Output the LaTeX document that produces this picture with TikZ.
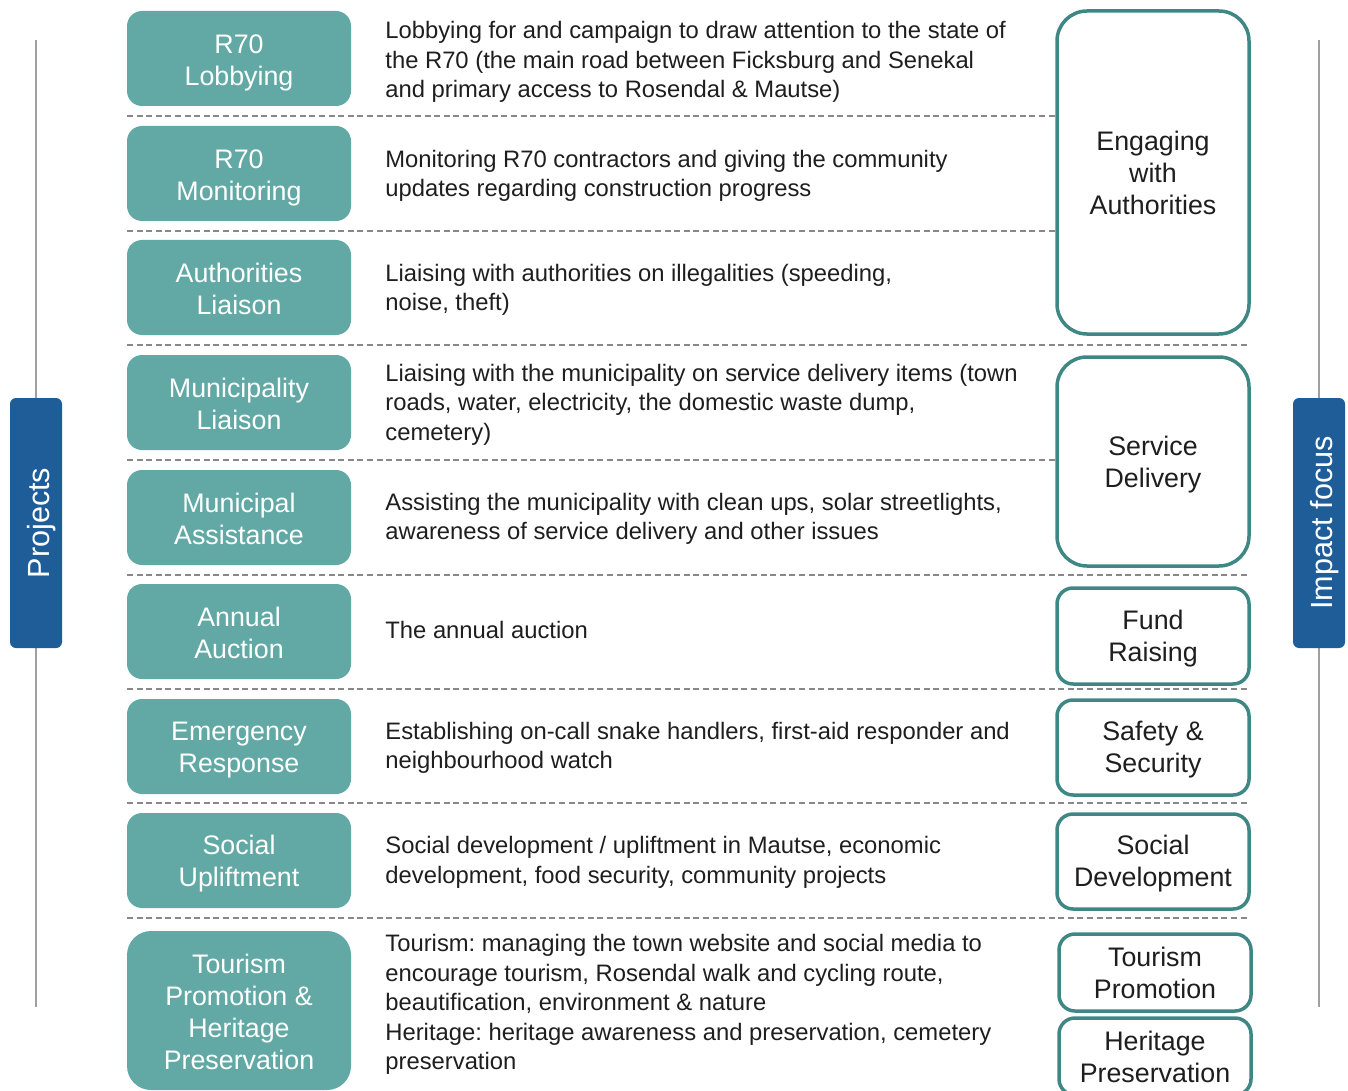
\documentclass[tikz,border=0pt]{standalone}
\usepackage{fontspec}
\setmainfont{Liberation Sans}
\usepackage{tikz}
\usetikzlibrary{positioning}
\definecolor{projTeal}{RGB}{98,169,165}
\definecolor{focusTeal}{RGB}{63,135,132}
\definecolor{sideBlue}{RGB}{31,93,153}
\definecolor{lineGray}{RGB}{160,160,160}
\definecolor{dashGray}{RGB}{136,136,136}
\definecolor{textDark}{RGB}{30,30,30}
\newcommand{\projlift}[1]{\rule{0pt}{#1}}
\newcommand{\focuslift}{\rule{0pt}{12.6pt}}
\frenchspacing
\begin{document}
\begin{tikzpicture}[x=0.5pt,y=-0.5pt,
                project/.style={rounded corners=7.5pt,fill=projTeal,minimum width=112pt,minimum height=47.5pt,
                               font=\fontsize{13.4}{16}\selectfont,align=center,inner sep=2pt,text=white},
                desc/.style={anchor=west,inner sep=0pt,align=left,text=textDark,
                            font=\fontsize{11.9}{14.75}\selectfont},
                focus/.style={rounded corners=8pt,draw=focusTeal,line width=1.75pt,fill=white,
                             minimum width=96pt,align=center,inner sep=2pt,text=textDark,
                             font=\fontsize{13.4}{16}\selectfont},
                sidebar/.style={rounded corners=3pt,fill=sideBlue,rotate=90,minimum width=125pt,
                               minimum height=26pt,inner sep=0pt,text=white,text height=13pt,text depth=0pt,
                               font=\fontsize{15.3}{18}\selectfont},
                separator/.style={dashGray,line width=0.75pt,dash pattern=on 3pt off 1.8pt}
            ]
                \useasboundingbox (0,0) rectangle (1348,1091);
                \clip (0,0) rectangle (1348,1091);
                % side rails
                \coordinate (railLtop) at (36,40);
                \coordinate (railLbot) at (36,1007);
                \coordinate (railRtop) at (1319,40);
                \coordinate (railRbot) at (1319,1007);
                \draw[lineGray,line width=1pt] (railLtop) -- (railLbot);
                \draw[lineGray,line width=1pt] (railRtop) -- (railRbot);
                \node[sidebar] (projects) at (36,523) {Projects};
                \node[sidebar] (impact) at (1319,523) {Impact focus};
                % row separators
                \foreach \y in {116,231,345,460,575,689,803,918}
                    \draw[separator] (127,\y) -- (1248,\y);
                % projects
                \node[project] (lobby) at (239,58.5) {\projlift{13.6pt}R70\\Lobbying};
                \node[project] (monitor) at (239,173.5) {\projlift{13.6pt}R70\\Monitoring};
                \node[project] (authl) at (239,287.5) {\projlift{11.1pt}Authorities\\Liaison};
                \node[project] (munil) at (239,402.5) {\projlift{11.1pt}Municipality\\Liaison};
                \node[project] (munia) at (239,517.5) {\projlift{11.1pt}Municipal\\Assistance};
                \node[project] (auction) at (239,631.5) {\projlift{11.1pt}Annual\\Auction};
                \node[project] (emerg) at (239,746.5) {\projlift{12.6pt}Emergency\\Response};
                \node[project] (uplift) at (239,860.5) {\projlift{12.6pt}Social\\Upliftment};
                \node[project,minimum height=79.5pt,rounded corners=12pt] (tourism) at (239,1010.5)
                    {\projlift{11.6pt}Tourism\\Promotion \&\\Heritage\\Preservation};
                % descriptions
                \node[desc] (lobbyd) at (385,62) {Lobbying for and campaign to draw attention to the state of\\
                    the R70 (the main road between Ficksburg and Senekal\\
                    and primary access to Rosendal \& Mautse)};
                \node[desc] (monitord) at (385,176) {Monitoring R70 contractors and giving the community\\
                    updates regarding construction progress};
                \node[desc] (authld) at (385,290) {Liaising with authorities on illegalities (speeding,\\
                    noise, theft)};
                \node[desc] (munild) at (385,404.5) {Liaising with the municipality on service delivery items (town\\
                    roads, water, electricity, the domestic waste dump,\\
                    cemetery)};
                \node[desc] (muniad) at (385,519) {Assisting the municipality with clean ups, solar streetlights,\\
                    awareness of service delivery and other issues};
                \node[desc] (auctiond) at (385,630) {The annual auction};
                \node[desc] (emergd) at (385,748) {Establishing on-call snake handlers, first-aid responder and\\
                    neighbourhood watch};
                \node[desc] (upliftd) at (385,862.5) {Social development / upliftment in Mautse, economic\\
                    development, food security, community projects};
                \node[desc] (tourismd) at (385,1004.5) {Tourism: managing the town website and social media to\\
                    encourage tourism, Rosendal walk and cycling route,\\
                    beautification, environment \& nature\\
                    Heritage: heritage awareness and preservation, cemetery\\
                    preservation};
                % impact focus
                \node[focus,minimum height=161.5pt,rounded corners=15pt] (engage) at (1153,172.5)
                    {Engaging\\with\\Authorities};
                \node[focus,minimum height=104.5pt,rounded corners=15pt] (service) at (1153,461.5)
                    {\focuslift Service\\Delivery};
                \node[focus,minimum height=48pt] (fund) at (1153,636) {\focuslift Fund\\Raising};
                \node[focus,minimum height=47.5pt] (safety) at (1153,747.5) {\rule{0pt}{11.6pt}Safety \&\\Security};
                \node[focus,minimum height=47.5pt] (socdev) at (1153,861.5) {\rule{0pt}{11.6pt}Social\\Development};
                \node[focus,minimum height=38.5pt] (tourpro) at (1155,972.5) {Tourism\\Promotion};
                \node[focus,minimum height=38.5pt] (herit) at (1155,1056.5) {Heritage\\Preservation};
            \end{tikzpicture}
\end{document}
